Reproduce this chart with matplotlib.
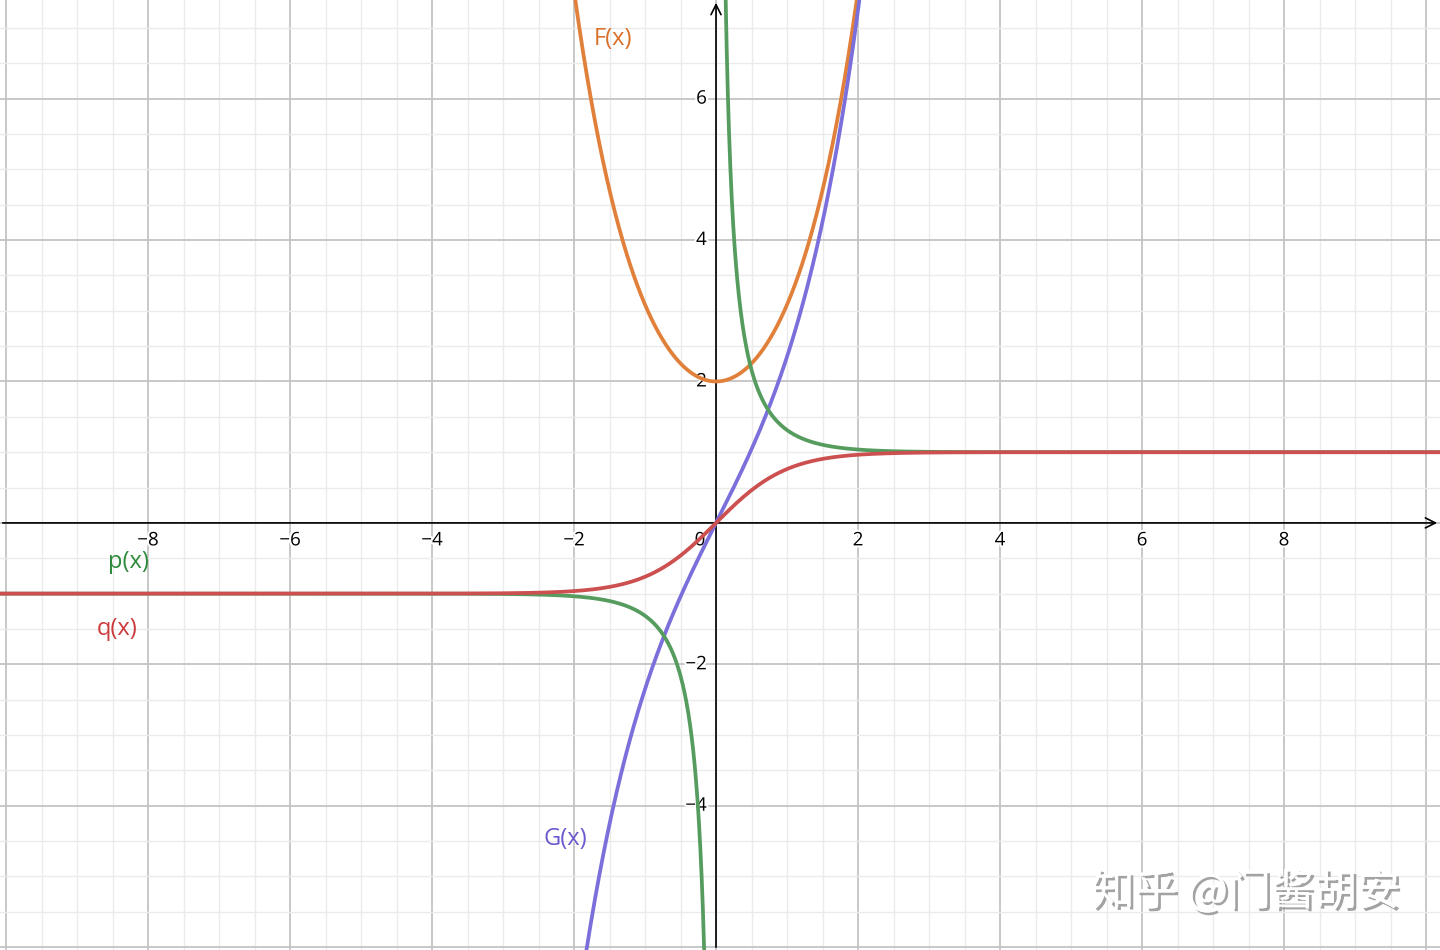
import matplotlib.pyplot as plt
import matplotlib.patheffects as pe
import numpy as np

plt.rcParams['font.family'] = ['Open Sans', 'DejaVu Sans']

# view window (graph units)
x_min, x_max = -10.085, 10.197
y_min, y_max = -6.04, 7.395

x_ticks = [-8, -6, -4, -2, 2, 4, 6, 8]
y_ticks = [-4, -2, 2, 4, 6]

# curve labels: (text, x, y, colour)
labels = [
    ('F(x)', -1.45, 6.85, '#d9712b'),
    ('G(x)', -2.12, -4.47, '#6a5acd'),
    ('p(x)', -8.28, -0.55, '#2e8b3a'),
    ('q(x)', -8.43, -1.5, '#cc3b3b'),
]

x = np.linspace(x_min, x_max, 4000)
x_pos = x[x > 1e-4]
x_neg = x[x < -1e-4]

fig = plt.figure(figsize=(14.4, 9.5), dpi=100)
ax = fig.add_axes([0, 0, 1, 1])
ax.set_xlim(x_min, x_max)
ax.set_ylim(y_min, y_max)
ax.axis('off')

# grid
for gx in np.arange(-10, 10.5, 0.5):
    major = abs(gx % 2) < 1e-9
    ax.axvline(gx, color='#c4c4c4' if major else '#ebebeb', lw=1.3 if major else 1.0, zorder=0)
for gy in np.arange(-6, 7.5, 0.5):
    major = abs(gy % 2) < 1e-9
    ax.axhline(gy, color='#c4c4c4' if major else '#ebebeb', lw=1.3 if major else 1.0, zorder=0)

# axes with arrows
ax.annotate('', xy=(x_max, 0), xytext=(x_min, 0),
            arrowprops=dict(arrowstyle='->', lw=1.2, color='black', mutation_scale=18), zorder=2)
ax.annotate('', xy=(0, y_max), xytext=(0, y_min),
            arrowprops=dict(arrowstyle='->', lw=1.2, color='black', mutation_scale=18), zorder=2)

bg = [pe.withStroke(linewidth=3, foreground='white')]
for t in x_ticks:
    ax.text(t, -0.12, f'{t}'.replace('-', '\u2212'), ha='center', va='top', fontsize=13.5,
            path_effects=bg, zorder=3)
for t in y_ticks:
    ax.text(-0.13, t, f'{t}'.replace('-', '\u2212'), ha='right', va='center', fontsize=13.5,
            path_effects=bg, zorder=3)
ax.text(-0.15, -0.12, '0', ha='right', va='top', fontsize=13.5, path_effects=bg, zorder=3)

# curves
lw = 2.7
ax.plot(x, np.exp(x) + np.exp(-x), color='#e0803a', lw=lw, zorder=4)
ax.plot(x, np.exp(x) - np.exp(-x), color='#7b6fdb', lw=lw, zorder=4)
ax.plot(x_pos, 1 / np.tanh(x_pos), color='#559c5e', lw=lw, zorder=4)
ax.plot(x_neg, 1 / np.tanh(x_neg), color='#559c5e', lw=lw, zorder=4)
ax.plot(x, np.tanh(x), color='#cc5050', lw=lw, zorder=5)

for txt, lx, ly, c in labels:
    ax.text(lx, ly, txt, color=c, fontsize=17, ha='center', va='center', zorder=6)

# watermark
ax.text(0.865, 0.06, '知乎 @门酱胡安', transform=ax.transAxes, fontsize=31,
        family=['Noto Sans CJK SC', 'DejaVu Sans'], color='white', ha='center', va='center',
        path_effects=[pe.withSimplePatchShadow(offset=(2, -2), shadow_rgbFace='#999999', alpha=0.9),
                      pe.Normal()], zorder=7)

fig.savefig('out.png', dpi=100)
